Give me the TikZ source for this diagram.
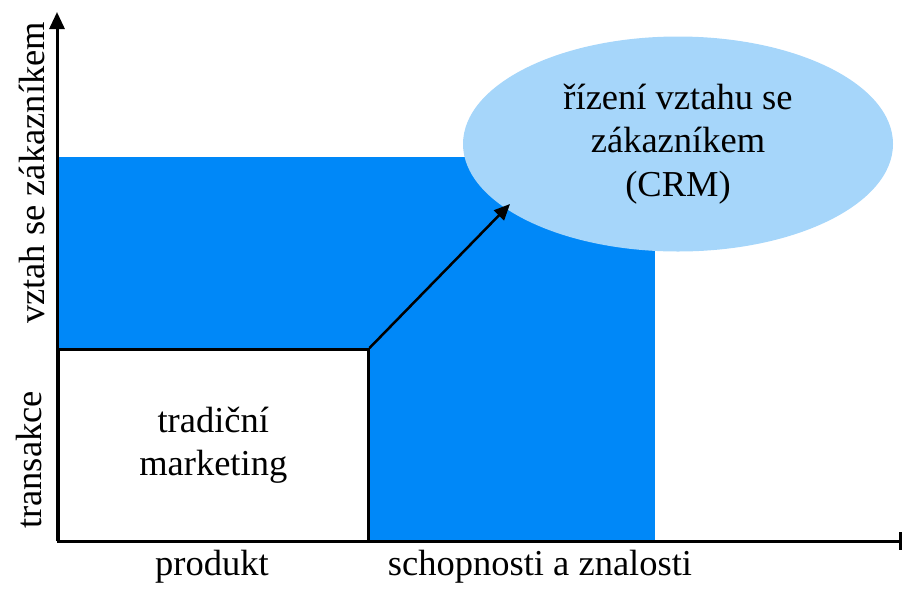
\documentclass[tikz,border=0pt]{standalone}
\usepackage{fontspec}
\setmainfont{Liberation Serif}
\usetikzlibrary{arrows.meta, positioning, shapes.geometric}
\definecolor{crmmodra}{RGB}{0,136,248}
\definecolor{crmsvetla}{RGB}{166,214,250}
\tikzset{
  popisek/.style = {inner sep=0pt, font=\fontsize{36.5}{43.5}\selectfont},
  obl_box/.style = {popisek, draw=black, fill=white, line width=2.5pt,
    align=center, minimum width=310pt, minimum height=192pt,
    anchor=north west},% tradicni marketing
  obl_elipsa/.style = {popisek, ellipse, fill=crmsvetla, align=center,
    minimum width=430pt, minimum height=215pt},% oblast CRM
  osa/.style = {line width=3pt}
}
\begin{document}
\begin{tikzpicture}[x=1pt, y=-1pt]
\useasboundingbox (0,0) rectangle (904,590);
\fill[crmmodra] (57,157) rectangle (655,541);
\node [obl_box] (trad) at (57,348) {tradiční\\marketing};
\node [obl_elipsa] (crm) at (678,144) {řízení vztahu se\\zákazníkem\\(CRM)};
\coordinate (cil) at (510,204);
\draw [line width=2.5pt, -{Triangle[length=16pt, width=14pt]}] (trad.north east) -- (cil);
% osy
\coordinate (pocatek) at (57,541);
\coordinate (ykonec) at (57,12);
\coordinate (xkonec) at (902,541);
\draw [osa, -{Triangle[length=17pt, width=15pt]}] (pocatek) -- (ykonec);
\draw [osa, -{Bar[width=18pt]}] (pocatek) -- (xkonec);
% popisky os
\node [popisek, rotate=90, anchor=south] (vztah) at (45,173) {vztah se zákazníkem};
\node [popisek, rotate=90, anchor=south] (transakce) at (42,460) {transakce};
\node [popisek, anchor=base] (produkt) at (212,575) {produkt};
\node [popisek, anchor=base] (znalosti) at (540,575) {schopnosti a znalosti};
\end{tikzpicture}
\end{document}
